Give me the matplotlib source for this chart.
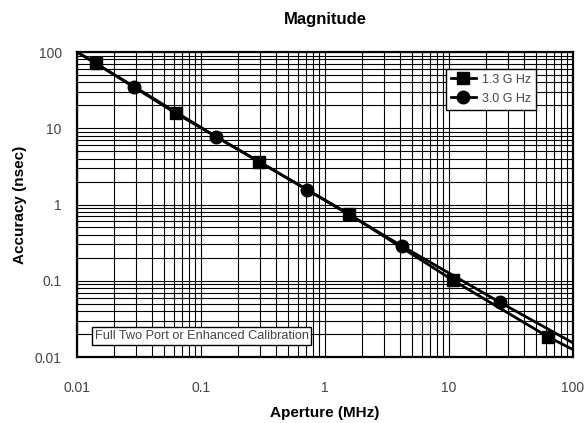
import matplotlib
matplotlib.use('Agg')
from matplotlib import pyplot as plt
from matplotlib.ticker import LogLocator, FixedLocator, FixedFormatter, NullFormatter

plt.rcParams['font.family'] = ['Liberation Sans', 'DejaVu Sans']

# 1.3 GHz line (squares), first and last points are the line ends
x_13 = [0.01, 0.0142, 0.0628, 0.294, 1.56, 10.7, 62.5, 100]
y_13 = [100, 71, 15.7, 3.64, 0.75, 0.102, 0.0185, 0.0125]

# 3.0 GHz line (circles)
x_30 = [0.01, 0.029, 0.1316, 0.719, 4.16, 25.8, 100]
y_30 = [100, 35, 7.8, 1.56, 0.286, 0.052, 0.0153]

ticks = [0.01, 0.1, 1, 10, 100]
tick_labels = ['0.01', '0.1', '1', '10', '100']

fig = plt.figure(figsize=(5.87, 4.23), dpi=100)
ax = fig.add_axes([0.1312, 0.156, 0.845, 0.721])

ax.plot(x_13, y_13, color='black', lw=2.0, marker='s', ms=8.5,
        markevery=list(range(1, len(x_13) - 1)), label='1.3 G Hz', zorder=3)
ax.plot(x_30, y_30, color='black', lw=2.0, marker='o', ms=9,
        markevery=list(range(1, len(x_30) - 1)), label='3.0 G Hz', zorder=3)

ax.set_xscale('log')
ax.set_yscale('log')
ax.set_xlim(0.01, 100)
ax.set_ylim(0.01, 100)

for axis in (ax.xaxis, ax.yaxis):
    axis.set_major_locator(FixedLocator(ticks))
    axis.set_major_formatter(FixedFormatter(tick_labels))
    axis.set_minor_locator(LogLocator(base=10, subs=range(2, 10)))
    axis.set_minor_formatter(NullFormatter())

ax.grid(which='both', color='black', lw=0.8)
ax.tick_params(which='both', length=0)
ax.tick_params(axis='x', pad=17, labelsize=10, labelcolor='#444444')
ax.tick_params(axis='y', pad=11, labelsize=10, labelcolor='#444444')
for s in ax.spines.values():
    s.set_linewidth(1.6)

ax.set_title('Magnitude', fontsize=12, fontweight='bold', pad=20)
ax.set_xlabel('Aperture (MHz)', fontsize=11, fontweight='bold', labelpad=8)
ax.set_ylabel('Accuracy (nsec)', fontsize=11, fontweight='bold', labelpad=6)

leg = ax.legend(loc='upper right', bbox_to_anchor=(0.938, 0.966), fancybox=False,
                framealpha=1, edgecolor='black', fontsize=9, handlelength=2.0,
                borderpad=0.4, labelspacing=0.55, handletextpad=0.5)
leg.get_frame().set_linewidth(1.0)
for t in leg.get_texts():
    t.set_color('#444444')

ax.text(0.036, 0.069, 'Full Two Port or Enhanced Calibration', transform=ax.transAxes,
        fontsize=9.2, color='#444444', va='center', ha='left', zorder=5,
        bbox=dict(facecolor='white', edgecolor='black', lw=1.0, boxstyle='square,pad=0.2'))

fig.savefig('out.png', dpi=100)
